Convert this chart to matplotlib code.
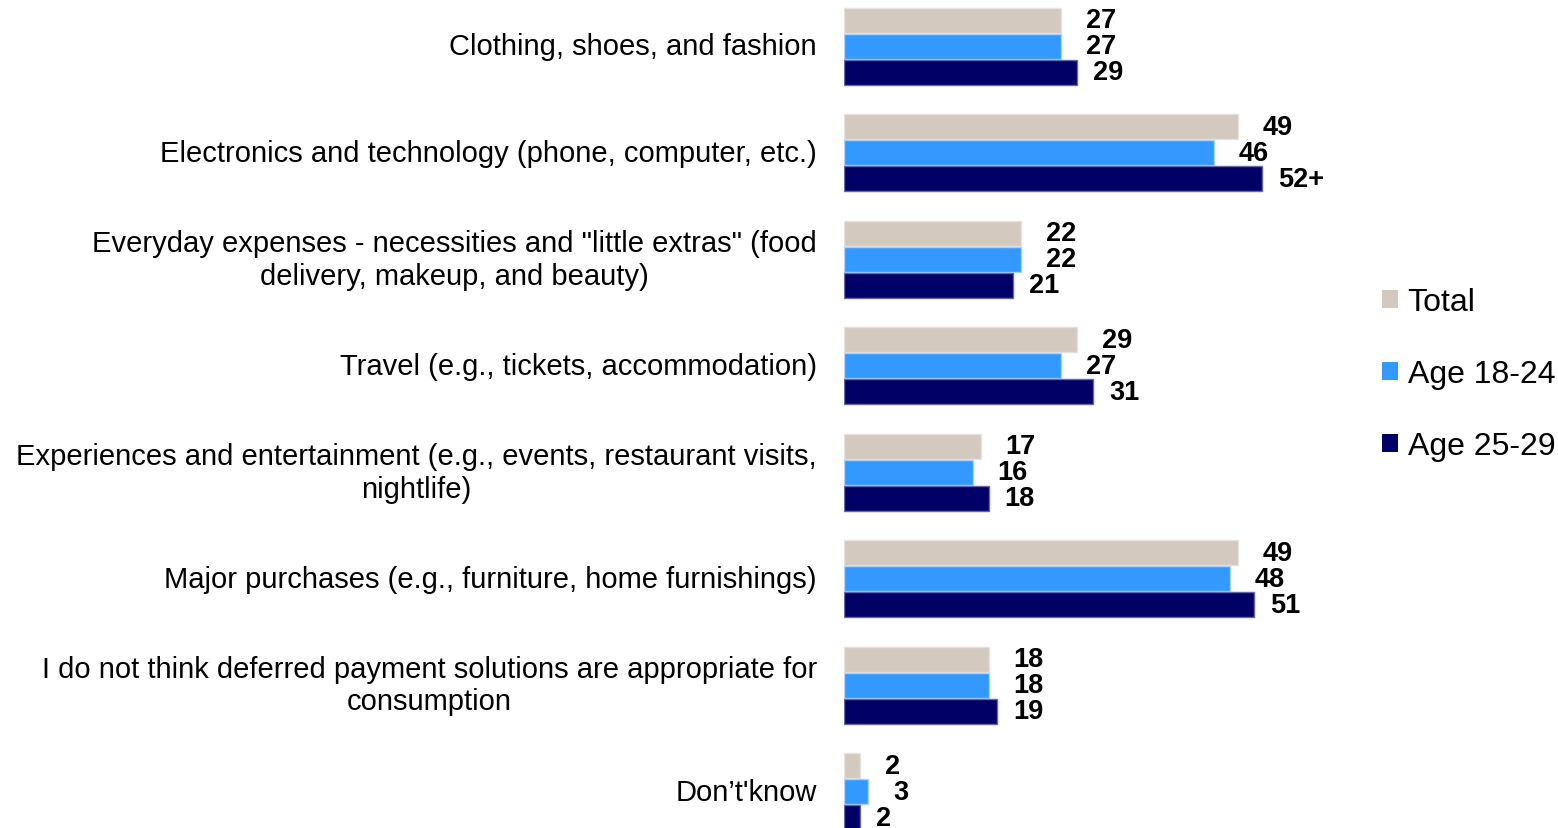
import matplotlib
matplotlib.use("Agg")
import matplotlib.pyplot as plt
from matplotlib.patches import Patch
import numpy as np

plt.rcParams['font.family'] = ['Liberation Sans', 'DejaVu Sans']

categories = [
    "Clothing, shoes, and fashion",
    "Electronics and technology (phone, computer, etc.)",
    "Everyday expenses - necessities and \"little extras\" (food\ndelivery, makeup, and beauty)",
    "Travel (e.g., tickets, accommodation)",
    "Experiences and entertainment (e.g., events, restaurant visits,\nnightlife)",
    "Major purchases (e.g., furniture, home furnishings)",
    "I do not think deferred payment solutions are appropriate for\nconsumption",
    "Don\u2019t'know",
]
series_names = ["Total", "Age 18-24", "Age 25-29"]
total = [27, 49, 22, 29, 17, 49, 18, 2]
age_18_24 = [27, 46, 22, 27, 16, 48, 18, 3]
age_25_29 = [29, 52, 21, 31, 18, 51, 19, 2]
label_25_29 = ["29", "52+", "21", "31", "18", "51", "19", "2"]

colors = ["#d3c9bf", "#3399ff", "#000066"]
edge_colors = ["#e8e2dc", "#a9d2ff", "#6666a8"]
label_offsets_px = [25, 25, 16]

W, H = 1558, 829
fig = plt.figure(figsize=(W / 100, H / 100), dpi=100)

x0 = 844 / W
xmax = 60
px_per_unit = 8.04
ax_w = xmax * px_per_unit / W
ax = fig.add_axes([x0, 0, ax_w, 1])

spacing = 106.43
top_pad = 47.5 / spacing
bot_pad = (H - 792.5) / spacing
n = len(categories)
y = np.arange(n)
ax.set_ylim(n - 1 + bot_pad, -top_pad)
ax.set_xlim(0, xmax)

bar_h = 25 / spacing
step = 26 / spacing
offsets = [-step, 0, step]
all_series = [total, age_18_24, age_25_29]
all_labels = [[str(v) for v in total], [str(v) for v in age_18_24], label_25_29]

for vals, labs, c, ec, off, lo in zip(all_series, all_labels, colors, edge_colors, offsets, label_offsets_px):
    ax.barh(y + off, vals, height=bar_h, color=c, edgecolor=ec, linewidth=1.0)
    for yi, v, lab in zip(y, vals, labs):
        ax.annotate(lab, xy=(v, yi + off), xytext=(lo * 0.72, 0), textcoords="offset points",
                    ha="left", va="center", fontsize=19.5, fontweight="bold", color="black")

ax.set_yticks(y)
ax.set_yticklabels(categories, fontsize=21, color="black")
for t in ax.get_yticklabels():
    t.set_multialignment("center")
    t.set_linespacing(1.22)
    t.set_verticalalignment("center")
ax.tick_params(axis="y", length=0, pad=27 * 0.72)
ax.tick_params(axis="x", bottom=False, labelbottom=False)
for s in ax.spines.values():
    s.set_visible(False)

handles = [Patch(facecolor=c, edgecolor="none") for c in colors]
fig.legend(handles, series_names, loc="upper left", bbox_to_anchor=(1382 / W, 1 - 288 / H),
           frameon=False, fontsize=23, handlelength=0.5, handleheight=0.5,
           handletextpad=0.3, labelspacing=1.32, borderpad=0, borderaxespad=0)

fig.savefig("out.png", dpi=100)
